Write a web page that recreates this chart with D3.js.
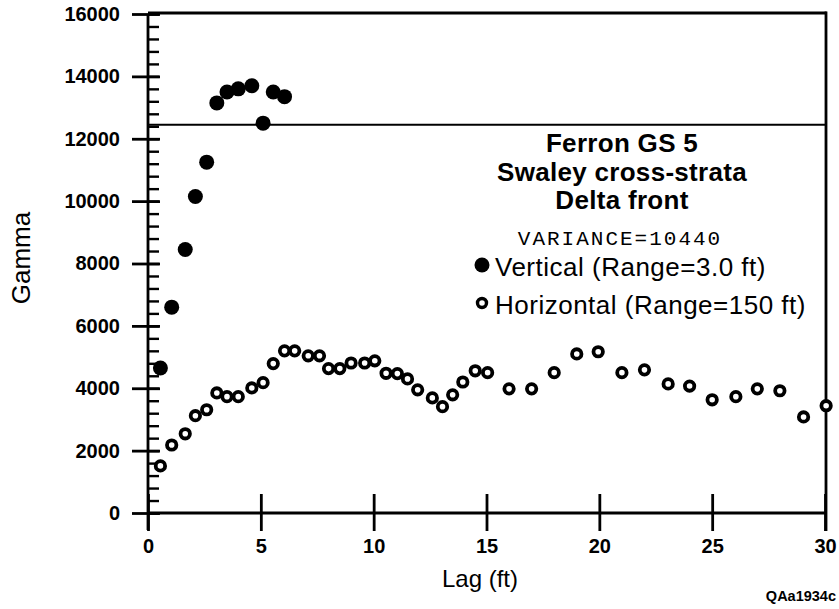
<!DOCTYPE html>
<html>
<head>
<meta charset="utf-8">
<script src="https://cdn.jsdelivr.net/npm/d3@7"></script>
<style>
  body { margin: 0; background: #fff; }
  svg { display: block; }
</style>
</head>
<body>
<div id="chart"></div>
<script>
// Variogram chart: Ferron GS 5, swaley cross-strata

var width = 839,
    height = 609;

// data
var vertLag = [0.55, 1.05, 1.65, 2.1, 2.6, 3.05, 3.5, 4.0, 4.6, 5.1, 5.55, 6.05];
var vertGamma = [4650, 6600, 8450, 10150, 11250, 13150, 13500, 13600, 13700, 12500, 13500, 13350];

var horizLag = [0.55, 1.05, 1.65, 2.1, 2.6, 3.05, 3.5, 4.0, 4.6, 5.1, 5.55, 6.05, 6.5, 7.1, 7.6,
    8.0, 8.5, 9.0, 9.6, 10.05, 10.55, 11.05, 11.5, 11.95, 12.6, 13.05, 13.5, 13.95, 14.5, 15.05,
    16, 17, 18, 19, 19.95, 21, 22, 23.05, 24, 25, 26.05, 27, 28, 29.05, 30.05];
var horizGamma = [1510, 2180, 2540, 3120, 3310, 3850, 3730, 3730, 4010, 4180, 4790, 5200, 5200, 5040, 5040,
    4630, 4630, 4810, 4810, 4880, 4480, 4470, 4300, 3950, 3690, 3410, 3790, 4200, 4560, 4500,
    3980, 3980, 4500, 5100, 5170, 4500, 4590, 4140, 4070, 3630, 3730, 3980, 3920, 3080, 3440];

var sill = 12450; // horizontal reference line

var xTicks = [0, 5, 10, 15, 20, 25, 30];
var yTicks = [0, 2000, 4000, 6000, 8000, 10000, 12000, 14000, 16000];
var yMinor = d3.range(0, 16001, 400);

var titleLines = ["Ferron GS 5", "Swaley cross-strata", "Delta front"];
var varianceLabel = "VARIANCE=10440";
var legendLabels = ["Vertical (Range=3.0 ft)", "Horizontal (Range=150 ft)"];

var sans = "'Liberation Sans', Arial, Helvetica, sans-serif";
var mono = "'Liberation Mono', 'Courier New', monospace";

// scales
var x = d3.scaleLinear().domain([0, 30]).range([148, 825]);
var y = d3.scaleLinear().domain([0, 16000]).range([513, 14]);

var svg = d3.select("#chart").append("svg")
    .attr("width", width).attr("height", height);

// frame: top and right lines
svg.append("line")
    .attr("x1", x(0)).attr("x2", x(30) + 1.5)
    .attr("y1", y(16000) - 1).attr("y2", y(16000) - 1)
    .attr("stroke", "#000").attr("stroke-width", 2.8);
svg.append("line")
    .attr("x1", x(30) + 1).attr("x2", x(30) + 1)
    .attr("y1", y(16000) - 2.4).attr("y2", y(0) + 18)
    .attr("stroke", "#000").attr("stroke-width", 2.8);

// sill line
svg.append("line")
    .attr("x1", x(0)).attr("x2", x(30))
    .attr("y1", y(sill)).attr("y2", y(sill))
    .attr("stroke", "#000").attr("stroke-width", 2);

// y axis minor ticks
svg.append("g")
    .attr("transform", "translate(" + x(0) + ",0)")
    .call(d3.axisRight(y).tickValues(yMinor).tickSize(11).tickFormat(""))
    .call(function(g) {
        g.select(".domain").remove();
        g.selectAll("line").attr("stroke-width", 2.4);
    });

// y axis major ticks + labels
svg.append("g")
    .attr("transform", "translate(" + x(0) + ",0)")
    .call(d3.axisLeft(y).tickValues(yTicks).tickSizeInner(16).tickSizeOuter(0).tickPadding(12)
        .tickFormat(d3.format("d")))
    .call(function(g) {
        g.select(".domain").attr("stroke-width", 2.8).attr("d", "M0," + y(16000) + "V" + (y(0) + 17));
        g.selectAll(".tick line").attr("x2", -16).attr("x1", 12).attr("stroke-width", 2.8);
        g.selectAll("text")
            .style("font-family", sans).style("font-weight", "bold").style("font-size", "20px")
            .attr("fill", "#000");
    });

// x axis
svg.append("g")
    .attr("transform", "translate(0," + y(0) + ")")
    .call(d3.axisBottom(x).tickValues(xTicks).tickSizeOuter(0).tickSizeInner(18).tickPadding(8))
    .call(function(g) {
        g.select(".domain").attr("stroke-width", 2.8).attr("d", "M" + (x(0) - 1) + ",0H" + x(30));
        g.selectAll(".tick line").attr("y1", -19).attr("stroke-width", 2.8);
        g.selectAll("text")
            .style("font-family", sans).style("font-weight", "bold").style("font-size", "20px")
            .attr("fill", "#000");
    });

// axis titles
svg.append("text")
    .attr("transform", "translate(30,258) rotate(-90)")
    .attr("text-anchor", "middle")
    .style("font-family", sans).style("font-size", "26px")
    .text("Gamma");

svg.append("text")
    .attr("x", 480).attr("y", 587)
    .attr("text-anchor", "middle")
    .style("font-family", sans).style("font-size", "24px")
    .text("Lag (ft)");

svg.append("text")
    .attr("x", 836).attr("y", 601)
    .attr("text-anchor", "end")
    .style("font-family", sans).style("font-weight", "bold").style("font-size", "14.5px")
    .text("QAa1934c");

// title block
svg.selectAll("text.title").data(titleLines).enter().append("text")
    .attr("class", "title")
    .attr("x", 622)
    .attr("y", function(d, i) { return 152 + i * 28.5; })
    .attr("text-anchor", "middle")
    .style("font-family", sans).style("font-weight", "bold").style("font-size", "26px")
    .style("letter-spacing", "0.3px")
    .text(function(d) { return d; });

svg.append("text")
    .attr("x", 620).attr("y", 245)
    .attr("text-anchor", "middle")
    .style("font-family", mono).style("font-size", "21px")
    .style("letter-spacing", "2px")
    .text(varianceLabel);

// legend
svg.append("circle")
    .attr("cx", 482).attr("cy", 265).attr("r", 7.5)
    .attr("fill", "#000");
svg.append("circle")
    .attr("cx", 482).attr("cy", 303).attr("r", 4.5)
    .attr("fill", "#fff").attr("stroke", "#000").attr("stroke-width", 3.4);
svg.selectAll("text.legend").data(legendLabels).enter().append("text")
    .attr("class", "legend")
    .attr("x", 495)
    .attr("y", function(d, i) { return 276 + i * 38; })
    .style("font-family", sans).style("font-size", "26px")
    .style("letter-spacing", "0.5px")
    .text(function(d) { return d; });

// horizontal data: open circles
svg.selectAll("circle.horiz").data(horizLag).enter().append("circle")
    .attr("class", "horiz")
    .attr("cx", function(d) { return x(d); })
    .attr("cy", function(d, i) { return y(horizGamma[i]); })
    .attr("r", 4.7)
    .attr("fill", "#fff")
    .attr("stroke", "#000")
    .attr("stroke-width", 3.8);

// vertical data: filled circles
svg.selectAll("circle.vert").data(vertLag).enter().append("circle")
    .attr("class", "vert")
    .attr("cx", function(d) { return x(d); })
    .attr("cy", function(d, i) { return y(vertGamma[i]); })
    .attr("r", 7.5)
    .attr("fill", "#000");
</script>
</body>
</html>
